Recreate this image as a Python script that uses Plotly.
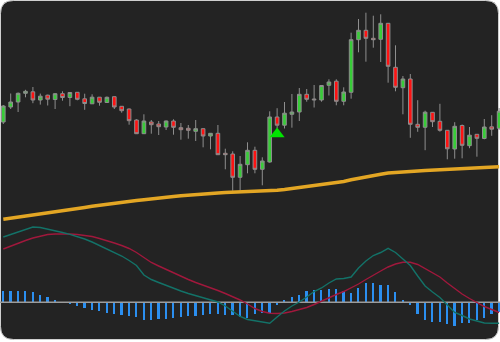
import plotly.graph_objects as go

# ---- price data (one bar per session) ----
opens = [107.8, 109.3, 109.8, 110.67, 110.82, 110.0, 110.48, 110.05, 110.63, 110.25,
         110.77, 110.12, 109.62, 110.28, 109.75, 110.33, 109.37, 109.1, 108.0, 106.63,
         107.8, 107.6, 107.3, 107.9, 107.23, 107.17, 106.87, 107.13, 106.4, 106.67,
         104.67, 104.6, 102.27, 103.53, 104.97, 103.07, 103.8, 108.3, 107.48, 108.57,
         108.8, 110.57, 110.1, 110.0, 111.47, 111.88, 109.87, 110.77, 116.03, 116.97,
         116.17, 116.07, 117.67, 113.27, 111.23, 112.1, 107.57, 107.27, 108.77, 107.87,
         106.97, 105.1, 107.45, 105.43, 106.57, 106.15, 107.32, 107.17]
highs = [109.5, 110.65, 110.75, 111.02, 111.3, 110.64, 110.53, 110.7, 110.87, 110.8,
         110.8, 110.63, 110.57, 110.3, 110.35, 110.35, 109.4, 109.15, 108.07, 108.57,
         108.0, 107.9, 107.95, 108.07, 107.7, 107.5, 108.0, 107.15, 106.7, 107.5,
         105.13, 104.87, 104.4, 105.77, 105.33, 104.27, 108.87, 109.18, 109.8, 110.6,
         111.2, 111.1, 111.5, 111.5, 112.07, 112.07, 111.27, 116.73, 118.1, 118.73,
         118.43, 118.57, 117.7, 115.47, 112.4, 112.6, 109.98, 108.93, 108.8, 109.62,
         107.0, 107.78, 107.55, 107.3, 106.6, 108.1, 108.48, 109.2]
lows = [107.6, 109.1, 108.8, 110.27, 109.68, 109.54, 109.45, 109.1, 109.93, 109.38,
        109.97, 109.02, 109.6, 109.43, 109.72, 109.1, 108.73, 107.53, 106.6, 106.6,
        106.63, 106.5, 107.0, 106.53, 106.03, 106.13, 105.9, 105.27, 105.07, 104.5,
        103.07, 100.93, 100.93, 102.67, 102.67, 101.47, 103.73, 107.13, 107.15, 107.23,
        107.9, 109.83, 109.25, 109.83, 110.45, 109.47, 109.47, 110.13, 114.77, 113.83,
        115.23, 113.8, 111.73, 110.87, 108.57, 106.22, 106.82, 104.98, 107.3, 106.83,
        104.07, 104.13, 104.17, 105.18, 104.33, 106.07, 106.42, 107.0]
closes = [109.4, 109.8, 110.67, 110.87, 110.0, 110.38, 110.08, 110.63, 110.25, 110.75,
          110.07, 109.65, 110.28, 109.77, 110.27, 109.3, 108.93, 107.93, 106.63, 107.9,
          107.53, 107.33, 107.9, 107.27, 107.03, 106.97, 107.13, 106.4, 106.67, 104.53,
          104.53, 102.27, 103.57, 104.97, 103.07, 103.9, 108.3, 107.48, 108.68, 108.8,
          110.57, 110.07, 110.02, 111.45, 111.8, 109.87, 110.8, 116.03, 116.97, 116.17,
          116.03, 117.67, 113.37, 111.27, 112.1, 107.57, 107.27, 108.78, 107.83, 106.97,
          105.12, 107.37, 105.47, 106.48, 106.17, 107.3, 107.08, 108.88]

# long moving average of the close
ma_long = [98.08, 98.18, 98.28, 98.39, 98.49, 98.6, 98.71, 98.82, 98.94, 99.04,
           99.15, 99.26, 99.37, 99.48, 99.59, 99.68, 99.78, 99.88, 99.95, 100.02,
           100.08, 100.16, 100.25, 100.34, 100.42, 100.49, 100.55, 100.6, 100.66, 100.71,
           100.74, 100.77, 100.8, 100.82, 100.85, 100.87, 100.9, 100.98, 101.06, 101.16,
           101.27, 101.36, 101.44, 101.52, 101.61, 101.72, 101.86, 102.02, 102.18, 102.33,
           102.47, 102.58, 102.69, 102.76, 102.82, 102.87, 102.91, 102.95, 102.99, 103.03,
           103.07, 103.11, 103.14, 103.18, 103.22, 103.25, 103.28, 103.32]

# MACD panel
macd_line = [1.306, 1.356, 1.406, 1.456, 1.506, 1.496, 1.466, 1.436, 1.396, 1.36,
             1.316, 1.266, 1.206, 1.136, 1.076, 1.006, 0.926, 0.836, 0.736, 0.546,
             0.456, 0.396, 0.336, 0.276, 0.226, 0.176, 0.136, 0.096, 0.056, 0.006,
             -0.074, -0.174, -0.284, -0.344, -0.374, -0.404, -0.42, -0.294, -0.174, -0.074,
             0.006, 0.106, 0.216, 0.286, 0.386, 0.466, 0.476, 0.506, 0.686, 0.826,
             0.936, 0.996, 1.08, 0.996, 0.866, 0.736, 0.526, 0.326, 0.206, 0.096,
             -0.054, -0.204, -0.264, -0.334, -0.374, -0.414, -0.42, -0.42]
signal_line = [1.066, 1.126, 1.176, 1.236, 1.286, 1.326, 1.356, 1.366, 1.37, 1.366,
               1.356, 1.336, 1.316, 1.276, 1.236, 1.186, 1.136, 1.076, 0.996, 0.896,
               0.796, 0.726, 0.656, 0.586, 0.526, 0.456, 0.396, 0.346, 0.296, 0.236,
               0.176, 0.116, 0.046, -0.034, -0.124, -0.184, -0.22, -0.224, -0.214, -0.184,
               -0.144, -0.104, -0.044, 0.026, 0.096, 0.156, 0.216, 0.286, 0.366, 0.456,
               0.546, 0.626, 0.706, 0.766, 0.8, 0.8, 0.756, 0.676, 0.596, 0.506,
               0.386, 0.276, 0.166, 0.076, -0.004, -0.084, -0.144, -0.204]
macd_hist = [0.226, 0.226, 0.226, 0.226, 0.2, 0.146, 0.1, 0.04, 0.006, -0.04,
             -0.066, -0.114, -0.154, -0.174, -0.206, -0.24, -0.246, -0.274, -0.3, -0.346,
             -0.346, -0.326, -0.334, -0.306, -0.286, -0.28, -0.266, -0.254, -0.24, -0.234,
             -0.246, -0.26, -0.3, -0.306, -0.24, -0.22, -0.206, -0.054, 0.04, 0.106,
             0.154, 0.226, 0.246, 0.246, 0.274, 0.274, 0.22, 0.186, 0.294, 0.38,
             0.38, 0.346, 0.346, 0.2, 0.04, -0.046, -0.234, -0.346, -0.386, -0.386,
             -0.426, -0.466, -0.406, -0.406, -0.36, -0.314, -0.24, -0.2]

# buy signal arrow
signal_idx = [37]
signal_price = [106.6]

idx = list(range(len(opens)))

BG = "#232323"
fig = go.Figure()

fig.add_trace(go.Candlestick(
    x=idx, open=opens, high=highs, low=lows, close=closes,
    increasing=dict(line=dict(color="#8e8e8e", width=1), fillcolor="#38cc38"),
    decreasing=dict(line=dict(color="#8e8e8e", width=1), fillcolor="#ff1212"),
    whiskerwidth=0, hoverinfo="skip",
))

fig.add_trace(go.Scatter(
    x=idx, y=ma_long, mode="lines",
    line=dict(color="#e3a624", width=3.5), hoverinfo="skip",
))

fig.add_trace(go.Scatter(
    x=signal_idx, y=signal_price, mode="markers",
    marker=dict(symbol="triangle-up", size=13, color="#00e600"),
    hoverinfo="skip",
))

# MACD on a second, overlaid axis
fig.add_trace(go.Bar(
    x=idx, y=macd_hist, yaxis="y2", width=0.24,
    marker=dict(color="#2b8ff0", line=dict(width=0)), hoverinfo="skip",
))
fig.add_trace(go.Scatter(
    x=[-1, len(idx)], y=[0, 0], yaxis="y2", mode="lines",
    line=dict(color="#9c9c9c", width=1.5), hoverinfo="skip",
))
fig.add_trace(go.Scatter(
    x=idx, y=signal_line, yaxis="y2", mode="lines",
    line=dict(color="#a0183c", width=1.4), hoverinfo="skip",
))
fig.add_trace(go.Scatter(
    x=idx, y=macd_line, yaxis="y2", mode="lines",
    line=dict(color="#137268", width=1.4), hoverinfo="skip",
))

# rounded dark card behind the plot
W, H = 500.0, 342.0
x0, x1, y0, y1, r = 0.5, 498.5, 0.5, 339.5, 13.0
def px(x): return x / W
def py(y): return 1 - y / H
card = (f"M {px(x0 + r)},{py(y0)} L {px(x1 - r)},{py(y0)} "
        f"Q {px(x1)},{py(y0)} {px(x1)},{py(y0 + r)} "
        f"L {px(x1)},{py(y1 - r)} Q {px(x1)},{py(y1)} {px(x1 - r)},{py(y1)} "
        f"L {px(x0 + r)},{py(y1)} Q {px(x0)},{py(y1)} {px(x0)},{py(y1 - r)} "
        f"L {px(x0)},{py(y0 + r)} Q {px(x0)},{py(y0)} {px(x0 + r)},{py(y0)} Z")

fig.update_layout(
    width=500, height=342,
    margin=dict(l=0, r=0, t=0, b=0),
    paper_bgcolor="white",
    plot_bgcolor="rgba(0,0,0,0)",
    showlegend=False,
    bargap=0,
    shapes=[dict(type="path", path=card, xref="paper", yref="paper",
                 fillcolor=BG, line=dict(color="#cfcfcf", width=1), layer="below")],
    xaxis=dict(visible=False, range=[-0.446, 67.12], rangeslider=dict(visible=False)),
    yaxis=dict(visible=False, range=[85.8, 120.0]),
    yaxis2=dict(visible=False, overlaying="y", range=[-0.794, 6.046]),
)

fig.write_html("out.html")
